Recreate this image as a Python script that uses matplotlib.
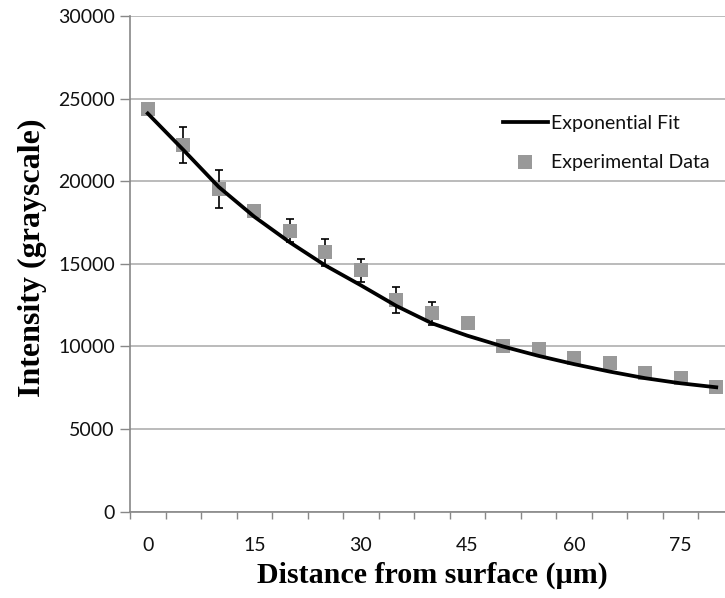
import numpy as np
import matplotlib.pyplot as plt

# Distance categories (um) and measured intensities
distance = [0, 5, 10, 15, 20, 25, 30, 35, 40, 45, 50, 55, 60, 65, 70, 75, 80]
intensity = [24350, 22200, 19500, 18200, 17000, 15700, 14600, 12800, 12000,
             11400, 10000, 9870, 9290, 8980, 8380, 8080, 7570]
intensity_err = [150, 1100, 1150, 250, 700, 800, 700, 800, 700,
                 200, 150, 150, 150, 150, 150, 150, 150]
fit = [24100, 21900, 19650, 17850, 16300, 14900, 13700, 12450, 11400,
       10650, 10000, 9430, 8930, 8480, 8080, 7770, 7530]
tick_labels = ["0", "15", "30", "45", "60", "75"]

fig = plt.figure(figsize=(7.25, 5.98), dpi=100)
ax = fig.add_axes([130 / 725, 1 - 511.7 / 598, 604 / 725, 495.7 / 598])

x = np.arange(len(distance))

ax.errorbar(x, intensity, yerr=intensity_err, fmt="none", ecolor="black",
            elinewidth=1.2, capsize=3, capthick=1.2, zorder=2)
ax.plot(x, intensity, "s", color="#999999", markersize=10.5,
        markeredgewidth=0, label="Experimental Data", zorder=3)
ax.plot(x, fit, "-", color="black", linewidth=2.7, label="Exponential Fit",
        zorder=4)

ax.set_xlim(-0.5, len(distance) - 0.5)
ax.set_ylim(0, 30000)
ax.set_yticks(np.arange(0, 30001, 5000))
ax.grid(axis="y", color="#b5b5b5", linewidth=1.3)
ax.set_axisbelow(True)

# category axis: marks between categories, labels every 3rd category
ax.set_xticks(np.arange(-0.5, len(distance), 1.0), minor=True)
ax.set_xticks(x[::3])
ax.set_xticklabels(tick_labels)
ax.tick_params(axis="x", which="major", length=0, pad=18)
ax.tick_params(axis="x", which="minor", length=5, color="#888888", width=1)
ax.tick_params(axis="y", length=7, color="#888888", width=1, pad=4)

for lab in ax.get_xticklabels() + ax.get_yticklabels():
    lab.set_fontfamily("Lato")
    lab.set_fontsize(14)
    lab.set_color("#111111")

for side in ["top", "right"]:
    ax.spines[side].set_visible(False)
for side in ["left", "bottom"]:
    ax.spines[side].set_color("#888888")
    ax.spines[side].set_linewidth(1.2)

ax.set_xlabel("Distance from surface (\u00b5m)", fontfamily="Liberation Serif",
              fontweight="bold", fontsize=21.6, labelpad=6)
ax.set_ylabel("Intensity (grayscale)", fontfamily="Liberation Serif",
              fontweight="bold", fontsize=23)
ax.yaxis.set_label_coords(-0.138, (511.7 - 258) / 495.7)

handles, labels = ax.get_legend_handles_labels()
leg = ax.legend(handles[::-1], labels[::-1], loc="upper left",
                frameon=False, prop={"family": "Lato", "size": 14},
                handlelength=2.3, handletextpad=0.15, labelspacing=1.15,
                borderpad=0, borderaxespad=0)
leg.set_bbox_to_anchor((503 / 725, 1 - 115 / 598), transform=fig.transFigure)
for t in leg.get_texts():
    t.set_color("#111111")

fig.savefig("out.png", dpi=100)
